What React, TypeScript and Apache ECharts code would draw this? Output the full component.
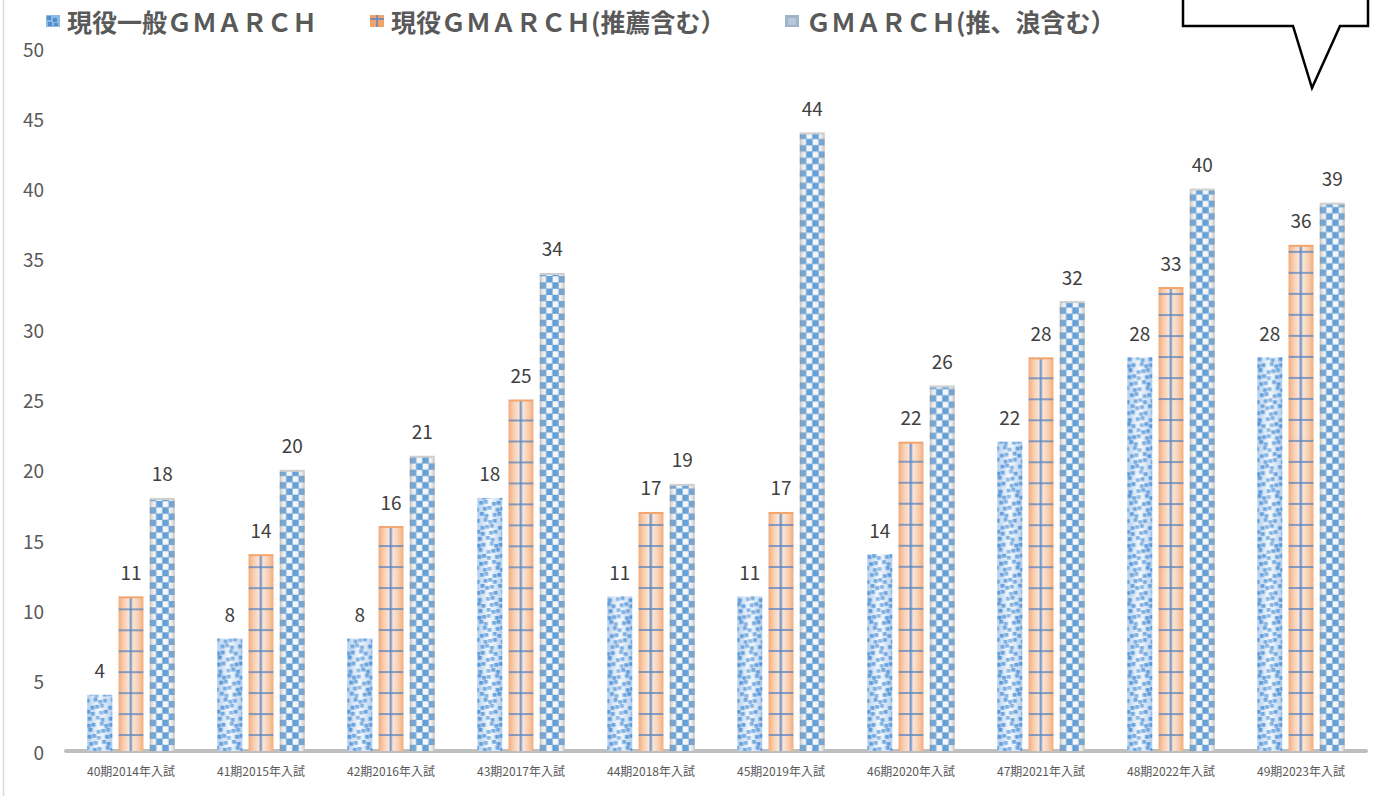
import React, { useEffect, useRef } from "react";
import * as echarts from "echarts";

const categories = [
  "40期2014年入試",
  "41期2015年入試",
  "42期2016年入試",
  "43期2017年入試",
  "44期2018年入試",
  "45期2019年入試",
  "46期2020年入試",
  "47期2021年入試",
  "48期2022年入試",
  "49期2023年入試",
];
const seriesNames = [
  "現役一般ＧＭＡＲＣＨ",
  "現役ＧＭＡＲＣＨ(推薦含む）",
  "ＧＭＡＲＣＨ(推、浪含む）",
];
const genekiIppan = [4, 8, 8, 18, 11, 11, 14, 22, 28, 28];
const genekiSuisen = [11, 14, 16, 25, 17, 17, 22, 28, 33, 36];
const suiRou = [18, 20, 21, 34, 19, 44, 26, 32, 40, 39];
const yTicks = { min: 0, max: 50, interval: 5 };

const FONT = '"Noto Sans CJK JP", "Noto Sans", sans-serif';

function mk(w: number, h: number) {
  const c = document.createElement("canvas");
  c.width = Math.max(1, w);
  c.height = Math.max(1, h);
  return c;
}

function hgrad(ctx: CanvasRenderingContext2D, w: number, stops: [number, string][]) {
  const g = ctx.createLinearGradient(0, 0, w, 0);
  stops.forEach(([o, c]) => g.addColorStop(o, c));
  return g;
}

function drawDotted(w: number, h: number) {
  const c = mk(w, h);
  const ctx = c.getContext("2d")!;
  ctx.fillStyle = hgrad(ctx, w, [
    [0, "#b3cfee"],
    [0.5, "#eef5fc"],
    [1, "#b3cfee"],
  ]);
  ctx.fillRect(0, 0, w, h);
  const step = 6;
  ctx.fillStyle = "#4a8fd6";
  let r = 0;
  for (let y = h - 4; y > -step; y -= step, r++) {
    let col = 0;
    for (let x = (r % 2) * 3 - 1; x < w; x += step, col++) {
      const jx = ((r * 7 + col * 13) % 5) - 2;
      const jy = ((r * 11 + col * 5) % 3) - 1;
      ctx.globalAlpha = 0.82 + (((r + col * 3) % 4) * 0.05);
      ctx.fillRect(x + jx * 0.7, y + jy, 3.9, 3.7);
    }
  }
  ctx.globalAlpha = 1;
  ctx.fillStyle = hgrad(ctx, w, [
    [0, "rgba(255,255,255,0)"],
    [0.5, "rgba(255,255,255,0.3)"],
    [1, "rgba(255,255,255,0)"],
  ]);
  ctx.fillRect(0, 0, w, h);
  return c;
}

function drawOrange(w: number, h: number) {
  const c = mk(w, h);
  const ctx = c.getContext("2d")!;
  ctx.fillStyle = hgrad(ctx, w, [
    [0, "#f4ab7a"],
    [0.18, "#f8cbac"],
    [0.5, "#fdefe6"],
    [0.82, "#f8cbac"],
    [1, "#f4ab7a"],
  ]);
  ctx.fillRect(0, 0, w, h);
  ctx.fillStyle = "rgba(95,135,190,0.75)";
  for (let d = 16; d < h - 2; d += 21) {
    ctx.fillRect(0, h - d - 1, w, 2);
  }
  ctx.fillStyle = "rgba(95,135,190,0.8)";
  ctx.fillRect(w / 2 - 1.5, 0, 2.5, h);
  ctx.fillStyle = "#f2a66f";
  ctx.fillRect(0, 0, w, 2);
  return c;
}

function drawChecker(w: number, h: number) {
  const c = mk(w, h);
  const ctx = c.getContext("2d")!;
  const s = w / 4;
  ctx.fillStyle = "#f8f8f8";
  ctx.fillRect(0, 0, w, h);
  ctx.fillStyle = "#5b9bd5";
  let r = 0;
  for (let y = h; y > -s; y -= s, r++) {
    for (let k = 0; k < 4; k++) {
      if ((k + r) % 2 === 0) ctx.fillRect(k * s, y - s, s + 0.3, s + 0.3);
    }
  }
  ctx.fillStyle = hgrad(ctx, w, [
    [0, "rgba(150,150,150,0.6)"],
    [0.16, "rgba(210,210,210,0.2)"],
    [0.5, "rgba(255,255,255,0)"],
    [0.84, "rgba(210,210,210,0.2)"],
    [1, "rgba(150,150,150,0.6)"],
  ]);
  ctx.fillRect(0, 0, w, h);
  ctx.fillStyle = "#cfcfcf";
  ctx.fillRect(0, 0, w, 2);
  return c;
}

const drawers = [drawDotted, drawOrange, drawChecker];
const cache: Record<string, string> = {};
function barImage(s: number, w: number, h: number) {
  const key = s + "-" + w + "-" + h;
  if (!cache[key]) cache[key] = drawers[s](w, h).toDataURL();
  return cache[key];
}

function legendIcon(s: number) {
  const w = 14, h = 12;
  const c = mk(w, h);
  const ctx = c.getContext("2d")!;
  if (s === 0) {
    ctx.fillStyle = "#8fb8e3";
    ctx.fillRect(0, 0, w, h);
    ctx.fillStyle = "#4f8fd0";
    ctx.fillRect(1, 1, 4, 4);
    ctx.fillRect(7, 3, 4, 4);
    ctx.fillRect(2, 7, 4, 4);
    ctx.fillRect(8, 8, 4, 3);
  } else if (s === 1) {
    ctx.fillStyle = "#f2a36c";
    ctx.fillRect(0, 0, w, h);
    ctx.fillStyle = "rgba(95,135,190,0.8)";
    ctx.fillRect(0, 3, w, 2);
    ctx.fillRect(6, 0, 2, h);
  } else {
    ctx.fillStyle = "#9fb3c9";
    ctx.fillRect(0, 0, w, h);
    ctx.fillStyle = "#b9c8d8";
    ctx.fillRect(3, 3, 8, 7);
  }
  return "image://" + c.toDataURL();
}

export default function App() {
  const ref = useRef<HTMLDivElement>(null);
  useEffect(() => {
    if (!ref.current) return;
    const chart = echarts.init(ref.current, undefined, { renderer: "svg" });
    const seriesData = [genekiIppan, genekiSuisen, suiRou];
    const makeRender = (s: number) => (params: any, api: any) => {
      const i = api.value(0);
      const v = api.value(1);
      const base = api.coord([i, 0]);
      const top = api.coord([i, v]);
      const catW = api.size([1, 0])[0];
      const bw = catW * 0.196;
      const step = catW * 0.24;
      const cx = base[0] + (s - 1) * step;
      const h = base[1] - top[1];
      const img = barImage(s, Math.round(bw), Math.round(h));
      return {
        type: "group",
        children: [
          {
            type: "image",
            style: { image: img, x: cx - bw / 2, y: top[1], width: bw, height: h },
          },
          {
            type: "text",
            style: {
              text: String(v),
              x: cx,
              y: top[1] - 25,
              align: "center",
              verticalAlign: "middle",
              fill: "#404040",
              fontSize: 19,
              fontFamily: FONT,
            },
          },
        ],
      };
    };
    const legendLefts = [41, 365, 780];
    const option: any = {
      animation: false,
      textStyle: { fontFamily: FONT },
      grid: { left: 66, right: 7, top: 48, bottom: 45 },
      legend: seriesNames.map((n, s) => ({
        data: [{ name: n, icon: legendIcon(s) }],
        left: legendLefts[s],
        top: 3,
        padding: 5,
        itemWidth: 14,
        itemHeight: 12,
        selectedMode: false,
        textStyle: {
          fontSize: 25,
          fontWeight: "bold",
          color: "#595959",
          fontFamily: FONT,
          lineHeight: 26,
          padding: [0, 0, 0, 2],
        },
      })),
      xAxis: {
        type: "category",
        data: categories,
        axisTick: { show: false },
        axisLine: { lineStyle: { color: "#bfbfbf", width: 4 } },
        axisLabel: { fontSize: 12, color: "#595959", margin: 13, interval: 0 },
      },
      yAxis: {
        type: "value",
        min: yTicks.min,
        max: yTicks.max,
        interval: yTicks.interval,
        axisLine: { show: false },
        axisTick: { show: false },
        splitLine: { show: false },
        axisLabel: { fontSize: 19, color: "#595959", margin: 22 },
      },
      series: seriesNames.map((n, s) => ({
        type: "custom",
        name: n,
        renderItem: makeRender(s),
        encode: { x: 0, y: 1 },
        itemStyle: { color: ["#5b9bd5", "#f4b183", "#a5b6c8"][s] },
        data: seriesData[s].map((v, i) => [i, v]),
      })),
      graphic: [
        {
          type: "line",
          shape: { x1: 3.5, y1: 0, x2: 3.5, y2: 796 },
          style: { stroke: "#d9d9d9", lineWidth: 1.5 },
          silent: true,
        },
        {
          type: "polygon",
          shape: {
            points: [
              [1183, -5],
              [1368, -5],
              [1368, 26],
              [1340, 26],
              [1312, 88],
              [1293, 26],
              [1183, 26],
            ],
          },
          style: { fill: "#ffffff", stroke: "#000000", lineWidth: 2.5 },
          silent: true,
        },
      ],
    };
    chart.setOption(option);
    return () => chart.dispose();
  }, []);
  return (
    <div
      ref={ref}
      style={{ position: "absolute", left: 0, top: 0, width: 1373, height: 796, background: "#ffffff" }}
    />
  );
}
